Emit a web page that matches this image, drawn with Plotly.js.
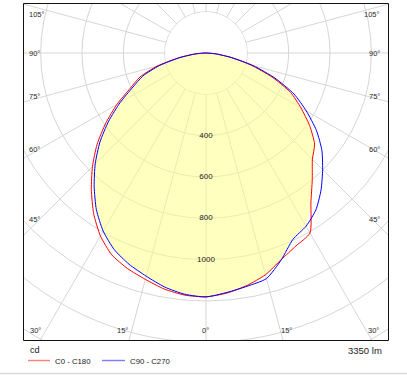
<!DOCTYPE html>
<html>
<head>
<meta charset="utf-8">
<script src="https://cdn.plot.ly/plotly-3.0.1.min.js"></script>
<style>
  html, body { margin: 0; padding: 0; background: #ffffff; }
  #wrap { position: relative; width: 407px; height: 375px; overflow: hidden; background: #ffffff; }
  #plot { position: absolute; left: -166px; top: -319px; width: 744px; height: 744px; }
</style>
</head>
<body>
<div id="wrap"><div id="plot"></div></div>
<script>
// ---------------- data (cd) ----------------
const GAMMA = [0, 5, 10, 15, 20, 25, 30, 35, 40, 45, 50, 55, 60, 65, 70, 75, 80, 85, 90];
const C0    = [1180, 1166, 1142, 1111, 1064, 1030, 1006, 885, 800, 728, 686, 612, 530, 452, 340, 225, 118, 45, 0];
const C180  = [1180, 1176, 1160, 1134, 1110, 1078, 1022, 948, 863, 777, 688, 592, 498, 405, 340, 245, 135, 55, 0];
const C90   = [1180, 1163, 1146, 1130, 1065, 995, 968, 927, 866, 798, 732, 652, 560, 470, 355, 238, 125, 48, 0];
const C270  = [1180, 1172, 1150, 1118, 1088, 1050, 995, 925, 842, 758, 670, 575, 480, 390, 325, 232, 128, 52, 0];
const RADIAL_LABELS = [400, 600, 800, 1000];
const SIDE_ANGLE_LABELS = ['105°', '90°', '75°', '60°', '45°'];
const BOTTOM_ANGLE_LABELS = ['30°', '15°', '0°', '15°', '30°'];
const SERIES_NAMES = ['C0 - C180', 'C90 - C270'];
const UNIT_LABEL = 'cd';
const FLUX_LABEL = '3350 lm';
const R_MAX = 1800;
const HOLE_R = 198;

// ---------------- helpers ----------------
const W = 744, L = -166, T = -319;
const X = px => (px - L) / W;
const Y = py => 1 - (py - T) / W;

// full curve: left half (negative theta) + right half (positive theta)
function plane(leftVals, rightVals) {
  const theta = [], r = [];
  for (let i = GAMMA.length - 1; i >= 0; i--) { theta.push(-GAMMA[i]); r.push(leftVals[i]); }
  for (let i = 1; i < GAMMA.length; i++) { theta.push(GAMMA[i]); r.push(rightVals[i]); }
  return { theta, r };
}
const red = plane(C180, C0);
const blue = plane(C270, C90);
const fillR = red.r.map((v, i) => Math.min(v, blue.r[i]));

const holeTheta = [], holeR = [];
for (let a = 0; a <= 360; a += 5) { holeTheta.push(a); holeR.push(HOLE_R); }

const FONT = 'Liberation Sans, Arial, sans-serif';
const SMOOTH = 0.6;

const traces = [
  { type: 'scatterpolar', r: holeR, theta: holeTheta, mode: 'lines', fill: 'toself',
    fillcolor: '#ffffff', line: { width: 0, color: 'rgba(0,0,0,0)' }, hoverinfo: 'skip', showlegend: false },
  { type: 'scatterpolar', r: fillR, theta: red.theta, mode: 'lines', fill: 'toself',
    fillcolor: 'rgba(255,255,128,0.5)', line: { width: 0, color: 'rgba(0,0,0,0)', shape: 'spline', smoothing: SMOOTH },
    hoverinfo: 'skip', showlegend: false },
  { type: 'scatterpolar', r: red.r, theta: red.theta, mode: 'lines', name: SERIES_NAMES[0],
    line: { color: '#ff0000', width: 1, shape: 'spline', smoothing: SMOOTH }, showlegend: false },
  { type: 'scatterpolar', r: blue.r, theta: blue.theta, mode: 'lines', name: SERIES_NAMES[1],
    line: { color: '#0000ff', width: 1, shape: 'spline', smoothing: SMOOTH }, showlegend: false },
  { type: 'scatterpolar', r: RADIAL_LABELS, theta: RADIAL_LABELS.map(() => 0), mode: 'text',
    text: RADIAL_LABELS.map(String), textposition: 'middle center',
    textfont: { family: FONT, size: 8, color: '#222222' }, hoverinfo: 'skip', showlegend: false }
];

// ---------------- layout ----------------
const shapes = [
  // white masks outside the frame
  { type: 'rect', xref: 'paper', yref: 'paper', x0: X(-600), x1: X(23), y0: Y(1000), y1: Y(-600), fillcolor: '#ffffff', line: { width: 0 }, layer: 'above' },
  { type: 'rect', xref: 'paper', yref: 'paper', x0: X(389), x1: X(1000), y0: Y(1000), y1: Y(-600), fillcolor: '#ffffff', line: { width: 0 }, layer: 'above' },
  { type: 'rect', xref: 'paper', yref: 'paper', x0: X(-600), x1: X(1000), y0: Y(3), y1: Y(-600), fillcolor: '#ffffff', line: { width: 0 }, layer: 'above' },
  { type: 'rect', xref: 'paper', yref: 'paper', x0: X(-600), x1: X(1000), y0: Y(1000), y1: Y(341), fillcolor: '#ffffff', line: { width: 0 }, layer: 'above' },
  // frame
  { type: 'rect', xref: 'paper', yref: 'paper', x0: X(23.5), x1: X(388.5), y0: Y(340.5), y1: Y(3.5), line: { color: '#111111', width: 1 }, layer: 'above' },
  // bottom separator
  { type: 'line', xref: 'paper', yref: 'paper', x0: X(0), x1: X(407), y0: Y(373.5), y1: Y(373.5), line: { color: '#d9d9d9', width: 1.5 }, layer: 'above' },
  // legend samples
  { type: 'line', xref: 'paper', yref: 'paper', x0: X(28), x1: X(50), y0: Y(360.5), y1: Y(360.5), line: { color: 'rgba(255,40,40,0.6)', width: 1.4 }, layer: 'above' },
  { type: 'line', xref: 'paper', yref: 'paper', x0: X(102), x1: X(125), y0: Y(360.5), y1: Y(360.5), line: { color: 'rgba(40,40,255,0.6)', width: 1.4 }, layer: 'above' }
];

const SIDE_Y = [14.5, 53.5, 97, 149.5, 219];
const BOTTOM_X = [35, 122.5, 205.5, 286.5, 373.5];
const annotations = [];
SIDE_ANGLE_LABELS.forEach((t, i) => {
  annotations.push({ xref: 'paper', yref: 'paper', x: X(27), y: Y(SIDE_Y[i]), xanchor: 'left', yanchor: 'middle',
    text: t, showarrow: false, font: { family: FONT, size: 7.5, color: '#2a2a2a' } });
  annotations.push({ xref: 'paper', yref: 'paper', x: X(381.5), y: Y(SIDE_Y[i]), xanchor: 'right', yanchor: 'middle',
    text: t, showarrow: false, font: { family: FONT, size: 7.5, color: '#2a2a2a' } });
});
BOTTOM_ANGLE_LABELS.forEach((t, i) => {
  annotations.push({ xref: 'paper', yref: 'paper', x: X(BOTTOM_X[i]), y: Y(330.7), xanchor: 'center', yanchor: 'middle',
    text: t, showarrow: false, font: { family: FONT, size: 7.5, color: '#2a2a2a' } });
});
annotations.push({ xref: 'paper', yref: 'paper', x: X(27.5), y: Y(350), xanchor: 'left', yanchor: 'middle',
  text: UNIT_LABEL, showarrow: false, font: { family: FONT, size: 9, color: '#222222' } });
annotations.push({ xref: 'paper', yref: 'paper', x: X(383.5), y: Y(350.5), xanchor: 'right', yanchor: 'middle',
  text: FLUX_LABEL, showarrow: false, font: { family: FONT, size: 9.5, color: '#222222' } });
annotations.push({ xref: 'paper', yref: 'paper', x: X(52.5), y: Y(361), xanchor: 'left', yanchor: 'middle',
  text: SERIES_NAMES[0], showarrow: false, font: { family: FONT, size: 7.8, color: '#222222' } });
annotations.push({ xref: 'paper', yref: 'paper', x: X(127.5), y: Y(361), xanchor: 'left', yanchor: 'middle',
  text: SERIES_NAMES[1], showarrow: false, font: { family: FONT, size: 7.8, color: '#222222' } });

const layout = {
  width: W, height: W,
  margin: { l: 0, r: 0, t: 0, b: 0, pad: 0 },
  paper_bgcolor: '#ffffff',
  showlegend: false,
  polar: {
    domain: { x: [0, 1], y: [0, 1] },
    bgcolor: '#ffffff',
    radialaxis: { range: [0, R_MAX], tick0: 0, dtick: 200, showgrid: true, gridcolor: '#d6d6d6', gridwidth: 1,
      showline: false, showticklabels: false, ticks: '' },
    angularaxis: { rotation: -90, direction: 'counterclockwise', thetaunit: 'degrees', tick0: 0, dtick: 15,
      showgrid: true, gridcolor: '#d6d6d6', gridwidth: 1, showline: false, showticklabels: false, ticks: '' }
  },
  shapes: shapes,
  annotations: annotations
};

Plotly.newPlot('plot', traces, layout, { staticPlot: true, displayModeBar: false });
</script>
</body>
</html>
